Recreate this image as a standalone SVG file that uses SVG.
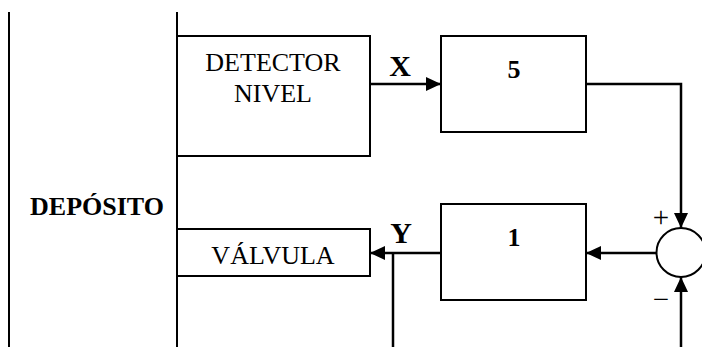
<svg xmlns="http://www.w3.org/2000/svg" width="702" height="347" viewBox="0 0 702 347">
  <style>
    .box { fill: #fff; stroke: #000; stroke-width: 2; }
    .wall { stroke: #000; stroke-width: 2; fill: none; }
    .conn { stroke: #000; stroke-width: 2.5; fill: none; }
    .t { font-family: "Liberation Serif", "Times New Roman", serif; fill: #000; text-anchor: middle; }
    .lbl { font-size: 26px; }
    .bold { font-weight: bold; }
    .sig { font-size: 30px; font-weight: bold; }
    .sign { font-size: 29px; }
  </style>
  <defs>
    <marker id="arrow" markerUnits="userSpaceOnUse" markerWidth="15" markerHeight="14" refX="15" refY="7" orient="auto">
      <path d="M0,0 L15,7 L0,14 z" fill="#000"/>
    </marker>
  </defs>
  <rect width="702" height="347" fill="#fff"/>

  <g id="deposito">
    <line class="wall" x1="9" y1="12" x2="9" y2="347"/>
    <line class="wall" x1="177" y1="12" x2="177" y2="347"/>
    <text class="t lbl bold" x="97" y="215">DEPÓSITO</text>
  </g>

  <g id="detector">
    <rect class="box" x="177" y="36" width="193" height="120"/>
    <text class="t lbl" x="273" y="71">DETECTOR</text>
    <text class="t lbl" x="273" y="102">NIVEL</text>
  </g>

  <g id="valvula">
    <rect class="box" x="177" y="229" width="193" height="47"/>
    <text class="t lbl" x="273" y="264">VÁLVULA</text>
  </g>

  <g id="gain5">
    <rect class="box" x="441" y="36" width="145" height="96"/>
    <text class="t lbl bold" x="514" y="78">5</text>
  </g>

  <g id="gain1">
    <rect class="box" x="441" y="204" width="145" height="96"/>
    <text class="t lbl bold" x="514" y="246">1</text>
  </g>

  <g id="sum">
    <circle cx="681" cy="252.5" r="24.5" fill="#fff" stroke="#000" stroke-width="2"/>
    <text class="t sign" x="661" y="227">+</text>
    <text class="t sign" x="661" y="309">−</text>
  </g>

  <g id="connectors">
    <line class="conn" x1="370" y1="84" x2="441" y2="84" marker-end="url(#arrow)"/>
    <polyline class="conn" points="586,84 681,84 681,228" marker-end="url(#arrow)"/>
    <line class="conn" x1="681" y1="347" x2="681" y2="277" marker-end="url(#arrow)"/>
    <line class="conn" x1="657" y1="253" x2="586" y2="253" marker-end="url(#arrow)"/>
    <line class="conn" x1="441" y1="253" x2="370" y2="253" marker-end="url(#arrow)"/>
    <line class="conn" x1="393" y1="253" x2="393" y2="347"/>
    <text class="t sig" x="400" y="76">X</text>
    <text class="t sig" x="401" y="243">Y</text>
  </g>
</svg>
